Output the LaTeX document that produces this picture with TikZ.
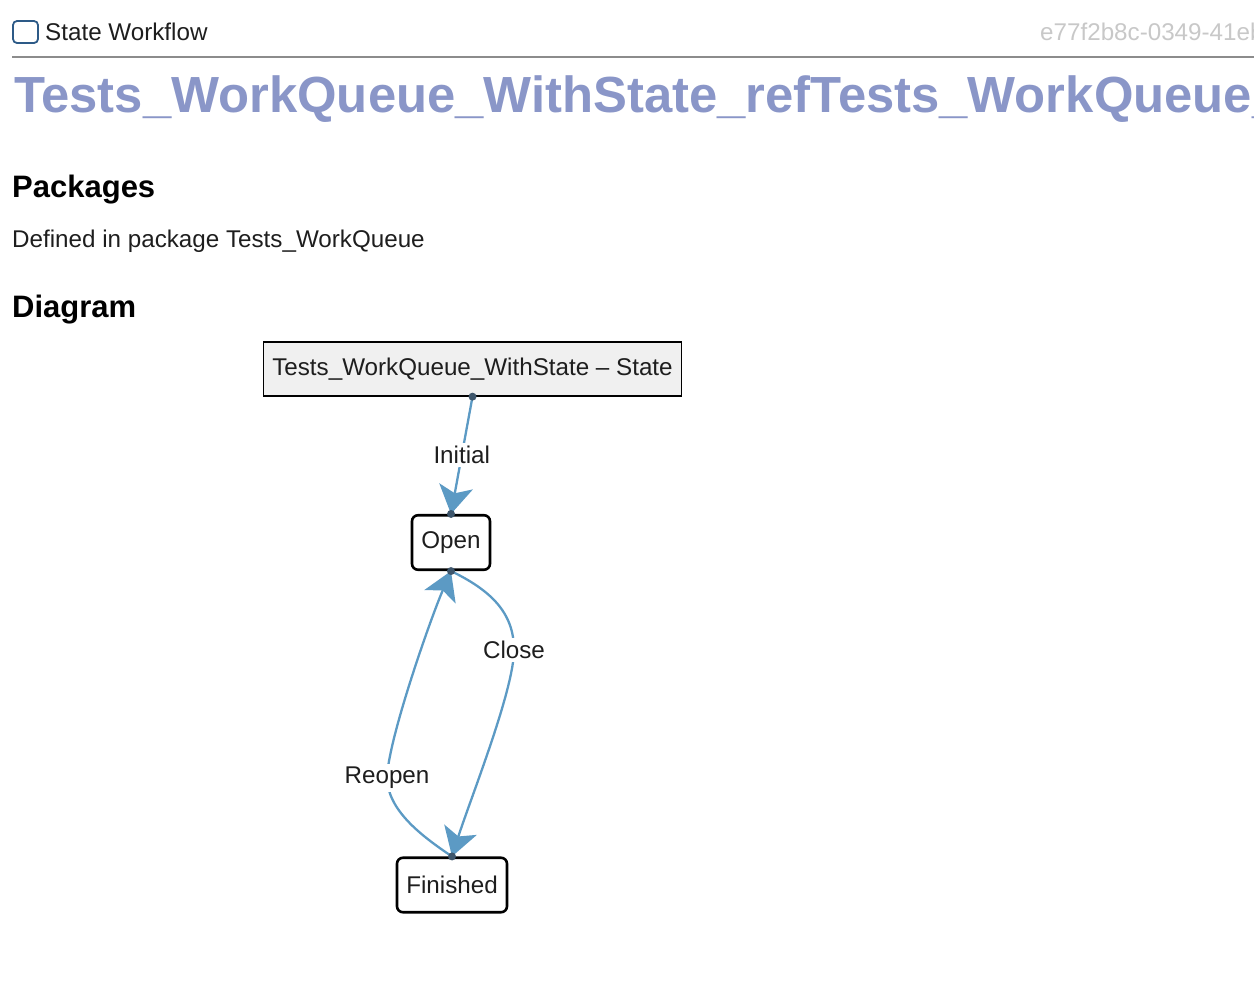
\documentclass[tikz,border=0pt]{standalone}
\usepackage{fontspec}
\setmainfont{Liberation Sans}
\usetikzlibrary{arrows.meta}
\definecolor{titleblue}{RGB}{138,150,200}
\definecolor{edgeblue}{RGB}{92,154,196}
\definecolor{dotslate}{RGB}{62,86,108}
\definecolor{boxgray}{RGB}{240,240,240}
\definecolor{checkblue}{RGB}{45,90,135}
\definecolor{rulegray}{RGB}{140,140,140}
\definecolor{hashgray}{RGB}{200,200,200}
\definecolor{inkgray}{RGB}{30,30,30}
\newcommand\txtfont{\fontsize{24.2}{29}\selectfont}
\begin{document}
\begin{tikzpicture}[x=1pt,y=-1pt,
  txt/.style={anchor=base west,inner sep=0pt,text=inkgray,font=\txtfont},
  heading/.style={anchor=base west,inner sep=0pt,font=\fontsize{31}{37}\selectfont\bfseries},
  classbox/.style={draw,fill=boxgray,line width=1.3pt,minimum width=418pt,
    minimum height=54pt,inner sep=0pt,text=inkgray,font=\txtfont},
  statebox/.style={draw,fill=white,line width=2.6pt,rounded corners=6pt,
    minimum height=54.5pt,inner sep=0pt,text=inkgray,font=\txtfont},
  edge/.style={edgeblue,line width=2.3pt,
    -{Stealth[length=28pt,width=34pt,inset=7pt]}},
  lbl/.style={fill=white,inner sep=3pt,text=inkgray,font=\txtfont},
  enddot/.style={dotslate}]

\useasboundingbox (0,0) rectangle (1254,988); %% page size

%% page header
\node[draw=checkblue,line width=1.8pt,rounded corners=4pt,minimum width=25pt,
  minimum height=22pt,inner sep=0pt] (check) at (25.5,32) {};
\node[txt] (kind) at (45,40.5) {State Workflow};
\node[txt,text=hashgray] (hash) at (1040,40.5) {e77f2b8c-0349-41eb};
\draw[rulegray,line width=2pt] (12,57) -- (1254,57);
\node[anchor=base west,inner sep=0pt,text=titleblue,
  font=\fontsize{50.8}{61}\selectfont\bfseries] (title) at (14,112)
  {Tests\_WorkQueue\_WithState\_refTests\_WorkQueue\_};

\node[heading] (pkghead) at (12,197) {Packages};
\node[txt] (pkgtext) at (12,247) {Defined in package Tests\_WorkQueue};
\node[heading] (diaghead) at (12,317) {Diagram};

%% diagram
\node[classbox] (state) at (472.5,369) {Tests\_WorkQueue\_WithState – State};
\node[statebox,minimum width=78pt] (open) at (451,542.5) {Open};
\node[statebox,minimum width=110pt] (finished) at (452,885) {Finished};

\draw[edge] (state.south) -- node[lbl]{Initial} (open.north);
\draw[edge] (open.south) .. controls (490,590) and (514,612) ..
  (514,650) node[lbl]{Close}
  .. controls (514,690) and (470,800) .. (finished.north);
\draw[edge] (finished.north) .. controls (420,835) and (388,810) ..
  (387,778) node[lbl]{Reopen}
  .. controls (388,740) and (430,620) .. (open.south);

\fill[enddot] (state.south) circle[radius=4pt];
\fill[enddot] (open.north) circle[radius=4pt];
\fill[enddot] (open.south) circle[radius=4pt];
\fill[enddot] (finished.north) circle[radius=4pt];

\end{tikzpicture}
\end{document}
